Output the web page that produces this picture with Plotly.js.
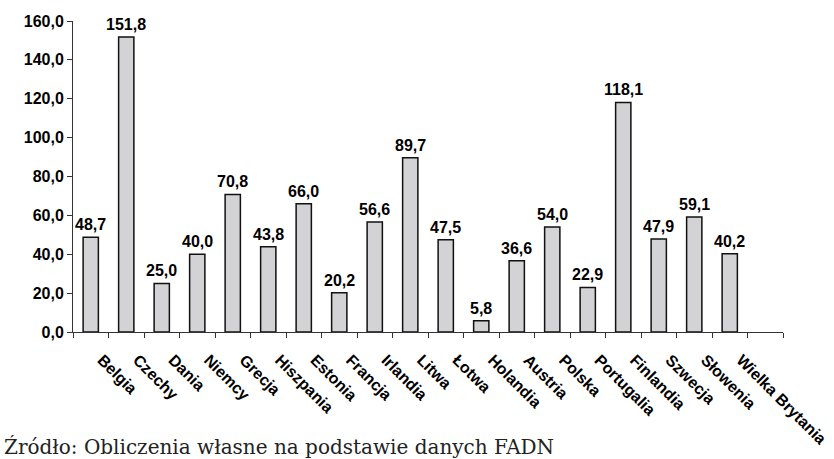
<!DOCTYPE html>
<html>
<head>
<meta charset="utf-8">
<script src="https://cdn.plot.ly/plotly-3.0.1.min.js"></script>
<style>html,body{margin:0;padding:0;background:#fff;}</style>
</head>
<body>
<div id="chart" style="width:834px;height:459px;"></div>
<script>
const categories = ["Belgia","Czechy","Dania","Niemcy","Grecja","Hiszpania","Estonia","Francja","Irlandia","Litwa","Łotwa","Holandia","Austria","Polska","Portugalia","Finlandia","Szwecja","Słowenia","Wielka Brytania"," "];
const values = [48.7,151.8,25.0,40.0,70.8,43.8,66.0,20.2,56.6,89.7,47.5,5.8,36.6,54.0,22.9,118.1,47.9,59.1,40.2,null];
const yTicks = [0,20,40,60,80,100,120,140,160];
const sourceText = "Źródło: Obliczenia własne na podstawie danych FADN";

const SANS = "Liberation Sans, Arial, sans-serif";
const labelPad = "\u2002\u2002";
const xCats = categories.map(c => labelPad + c);

const trace = {
  type: "bar",
  x: xCats,
  y: values,
  marker: {color: "#d3d3d5", line: {color: "#111", width: 1.5}},
  width: 0.43,
  hoverinfo: "skip"
};

const valueLabels = [];
values.forEach((v, i) => {
  if (v === null) return;
  valueLabels.push({
    x: xCats[i], y: v, xref: "x", yref: "y",
    text: v.toFixed(1).replace(".", ","),
    showarrow: false, yanchor: "bottom", yshift: 2,
    font: {family: SANS, size: 16, color: "#000", weight: "bold"}
  });
});

const layout = {
  width: 834, height: 459,
  margin: {l: 73, r: 51, t: 21, b: 127, pad: 0},
  paper_bgcolor: "#fff", plot_bgcolor: "#fff",
  separators: ", ",
  showlegend: false,
  xaxis: {
    type: "category",
    categoryorder: "array", categoryarray: xCats,
    range: [-0.5, 19.5],
    tickson: "boundaries",
    ticks: "outside", ticklen: 5, tickcolor: "#333", tickwidth: 1,
    showline: true, linecolor: "#333", linewidth: 1,
    showgrid: false, zeroline: false,
    tickangle: 45,
    automargin: false,
    tickfont: {family: SANS, size: 16, color: "#000", weight: "bold"}
  },
  yaxis: {
    range: [0, 160],
    tickvals: yTicks,
    tickformat: ".1f",
    ticksuffix: "\u2002\u2002",
    ticks: "outside", ticklen: 5, tickcolor: "#333", tickwidth: 1,
    showline: true, linecolor: "#333", linewidth: 1,
    showgrid: false, zeroline: false,
    automargin: false,
    tickfont: {family: SANS, size: 16, color: "#000", weight: "bold"}
  },
  annotations: valueLabels.concat([{
    text: sourceText,
    xref: "paper", yref: "paper",
    x: (556 - 73) / 710, xanchor: "right",
    y: 0, yanchor: "top", yshift: -101,
    showarrow: false,
    font: {family: "DejaVu Serif, serif", size: 20, color: "#222"}
  }])
};

Plotly.newPlot("chart", [trace], layout, {staticPlot: true, displayModeBar: false});
</script>
</body>
</html>
